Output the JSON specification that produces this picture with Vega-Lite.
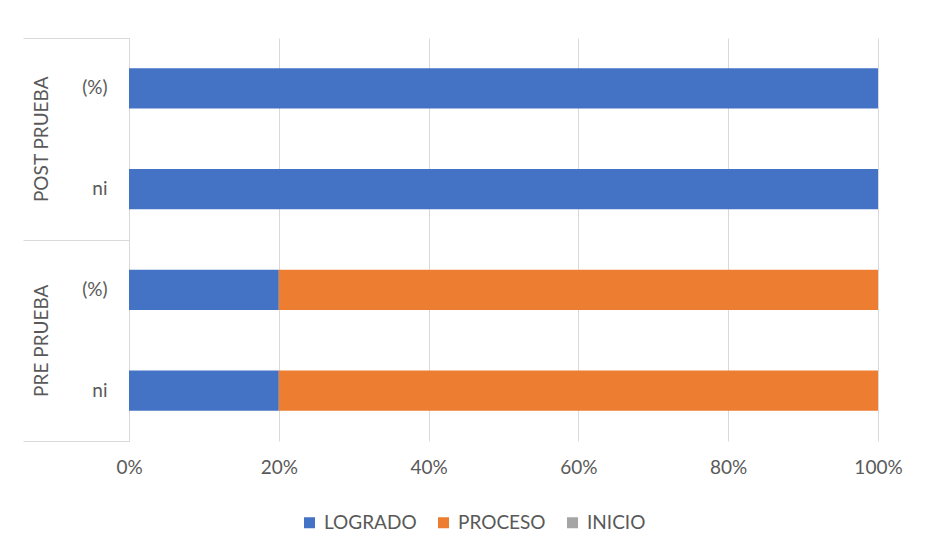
{
  "$schema": "https://vega.github.io/schema/vega-lite/v6.json",
  "width": 749,
  "height": 403,
  "padding": {"left": 22, "top": 37, "right": 10, "bottom": 10},
  "background": "white",
  "config": {
    "font": "Lato",
    "view": {"stroke": null}
  },
  "data": {
    "values": [
      {"prueba": "POST PRUEBA", "medida": "(%)", "nivel": "LOGRADO", "valor": 100},
      {"prueba": "POST PRUEBA", "medida": "(%)", "nivel": "PROCESO", "valor": 0},
      {"prueba": "POST PRUEBA", "medida": "(%)", "nivel": "INICIO", "valor": 0},
      {"prueba": "POST PRUEBA", "medida": "ni", "nivel": "LOGRADO", "valor": 15},
      {"prueba": "POST PRUEBA", "medida": "ni", "nivel": "PROCESO", "valor": 0},
      {"prueba": "POST PRUEBA", "medida": "ni", "nivel": "INICIO", "valor": 0},
      {"prueba": "PRE PRUEBA", "medida": "(%)", "nivel": "LOGRADO", "valor": 20},
      {"prueba": "PRE PRUEBA", "medida": "(%)", "nivel": "PROCESO", "valor": 80},
      {"prueba": "PRE PRUEBA", "medida": "(%)", "nivel": "INICIO", "valor": 0},
      {"prueba": "PRE PRUEBA", "medida": "ni", "nivel": "LOGRADO", "valor": 3},
      {"prueba": "PRE PRUEBA", "medida": "ni", "nivel": "PROCESO", "valor": 12},
      {"prueba": "PRE PRUEBA", "medida": "ni", "nivel": "INICIO", "valor": 0}
    ]
  },
  "transform": [
    {"calculate": "datum.prueba + '|' + datum.medida", "as": "clave"},
    {"calculate": "indexof(['LOGRADO','PROCESO','INICIO'], datum.nivel)", "as": "orden"}
  ],
  "layer": [
    {
      "mark": {"type": "bar"},
      "encoding": {
        "y": {
          "field": "clave",
          "type": "nominal",
          "scale": {
            "domain": ["POST PRUEBA|(%)", "POST PRUEBA|ni", "PRE PRUEBA|(%)", "PRE PRUEBA|ni"],
            "paddingInner": 0.6,
            "paddingOuter": 0.3
          },
          "axis": {
            "title": null,
            "ticks": false,
            "domain": true,
            "domainColor": "#d9d9d9",
            "labelExpr": "split(datum.label, '|')[1]",
            "labelFontSize": 19,
            "labelColor": "#595959",
            "labelPadding": 22
          }
        },
        "x": {
          "aggregate": "sum",
          "field": "valor",
          "type": "quantitative",
          "stack": "normalize",
          "axis": {
            "title": null,
            "format": "%",
            "values": [0, 0.2, 0.4, 0.6, 0.8, 1],
            "grid": true,
            "gridColor": "#d9d9d9",
            "domain": false,
            "ticks": false,
            "labelFlush": false,
            "labelFontSize": 19,
            "labelColor": "#595959",
            "labelPadding": 17
          }
        },
        "color": {
          "field": "nivel",
          "type": "nominal",
          "scale": {
            "domain": ["LOGRADO", "PROCESO", "INICIO"],
            "range": ["#4472C4", "#ED7D31", "#A5A5A5"]
          },
          "legend": {
            "title": null,
            "orient": "none",
            "direction": "horizontal",
            "legendX": 171,
            "legendY": 475,
            "symbolType": "square",
            "symbolSize": 121,
            "symbolStrokeWidth": 0,
            "labelFontSize": 19,
            "labelColor": "#595959",
            "labelOffset": 5,
            "columnPadding": 17,
            "padding": 0
          }
        },
        "order": {"field": "orden", "type": "quantitative"}
      }
    },
    {
      "mark": {"type": "rule", "opacity": 0},
      "encoding": {
        "y": {
          "field": "prueba",
          "type": "nominal",
          "scale": {"domain": ["POST PRUEBA", "PRE PRUEBA"], "paddingInner": 0, "paddingOuter": 0},
          "axis": {
            "orient": "left",
            "title": null,
            "domain": false,
            "grid": false,
            "tickBand": "extent",
            "tickSize": 106,
            "tickColor": "#d9d9d9",
            "labelAngle": -90,
            "labelAlign": "center",
            "labelBaseline": "middle",
            "labelPadding": -18,
            "labelFontSize": 19,
            "labelColor": "#595959"
          }
        }
      }
    }
  ],
  "resolve": {"scale": {"y": "independent"}}
}
